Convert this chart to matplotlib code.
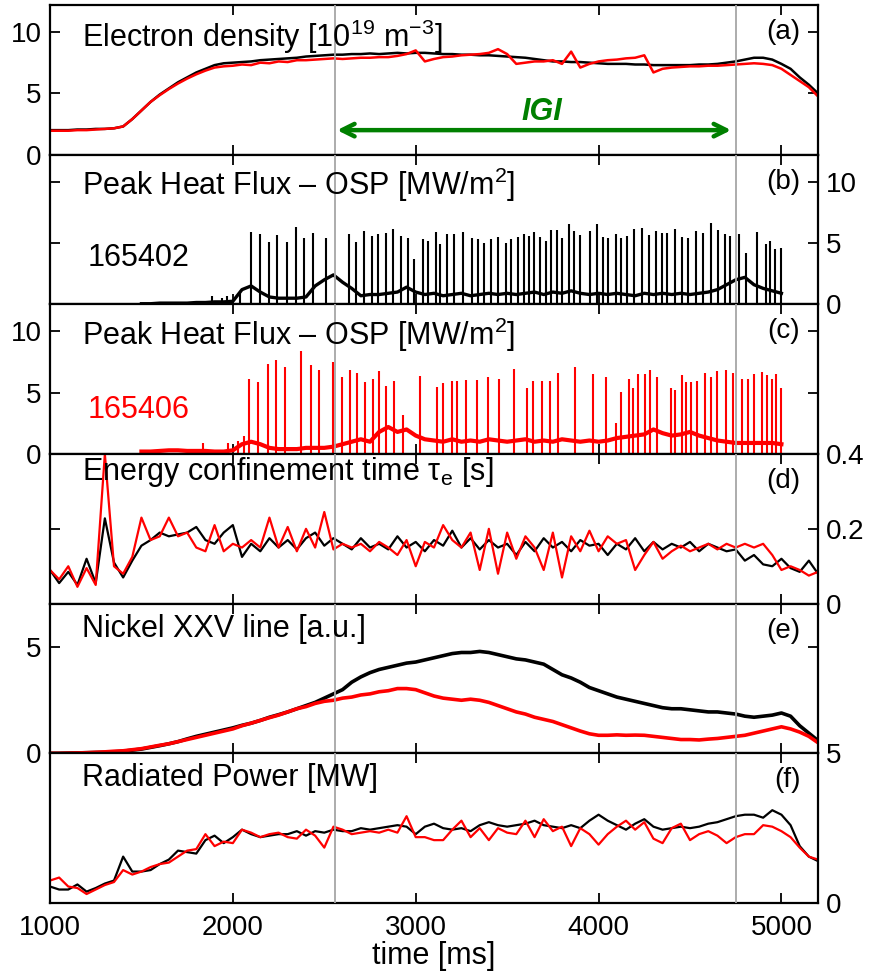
import numpy as np
import matplotlib
matplotlib.use('Agg')
import matplotlib.pyplot as plt

plt.rcParams['font.family'] = ['Liberation Sans', 'DejaVu Sans']
plt.rcParams['mathtext.fontset'] = 'custom'
plt.rcParams['mathtext.rm'] = 'Liberation Sans'
plt.rcParams['mathtext.it'] = 'Liberation Sans:italic'
plt.rcParams['mathtext.default'] = 'regular'

# ---- data ----
t = np.arange(1000, 5201, 50)          # 85 samples, ms
t_elm = np.arange(1500, 5001, 50)      # 71 samples, ms

ne_402 = [2.0, 2.0, 2.0, 2.05, 2.05, 2.1, 2.1, 2.15, 2.3,
          2.9, 3.6, 4.3, 4.9, 5.4, 5.9, 6.3, 6.7, 7.0, 7.3, 7.45,
          7.5, 7.55, 7.6, 7.7, 7.75, 7.8, 7.85, 7.9, 8.0, 8.05,
          8.1, 8.15, 8.15, 8.2, 8.2, 8.25, 8.2, 8.25, 8.3, 8.25,
          8.3, 8.3, 8.25, 8.2, 8.2, 8.15, 8.15, 8.1, 8.1, 8.05,
          8.0, 7.95, 7.9, 7.8, 7.7, 7.6, 7.6, 7.55, 7.55, 7.5,
          7.45, 7.4, 7.4, 7.4, 7.35, 7.35, 7.3, 7.3, 7.3, 7.3,
          7.3, 7.35, 7.35, 7.4, 7.5, 7.6, 7.75, 7.9, 7.9, 7.75,
          7.4, 7.0, 6.3, 5.7, 5.0]
ne_406 = [1.95, 1.95, 1.95, 2.0, 2.0, 2.05, 2.1, 2.15, 2.3,
          2.9, 3.6, 4.3, 4.85, 5.35, 5.8, 6.2, 6.55, 6.85, 7.1, 7.2,
          7.25, 7.35, 7.3, 7.5, 7.45, 7.6, 7.55, 7.7, 7.7, 7.75,
          7.8, 7.85, 7.8, 7.85, 7.9, 7.9, 7.95, 7.95, 8.05, 8.2,
          8.5, 7.6, 7.8, 7.95, 8.0, 8.1, 8.15, 8.2, 8.3, 8.6,
          8.2, 7.4, 7.5, 7.6, 7.6, 7.7, 7.4, 8.4, 7.1, 7.4,
          7.6, 7.7, 7.75, 7.85, 7.9, 8.1, 6.7, 7.0, 7.1, 7.15,
          7.2, 7.2, 7.25, 7.25, 7.3, 7.35, 7.4, 7.45, 7.4, 7.3,
          7.0, 6.5, 6.0, 5.5, 4.75]

q_base_402 = [0.05, 0.05, 0.1, 0.1, 0.1, 0.1, 0.15, 0.15, 0.2, 0.2,
              0.25, 1.2, 1.5, 1.0, 0.6, 0.5, 0.5, 0.5, 0.6, 1.5,
              2.0, 2.4, 1.8, 1.3, 0.7, 0.8, 0.8, 0.9, 1.0, 1.4,
              1.0, 0.8, 0.9, 0.7, 0.8, 0.9, 0.7, 0.8, 0.9, 0.8,
              0.9, 0.8, 0.9, 1.0, 0.8, 1.0, 0.9, 1.1, 0.9, 0.8,
              0.9, 0.8, 0.9, 0.8, 0.7, 0.9, 0.8, 0.9, 0.8, 0.9,
              0.8, 0.9, 1.0, 1.2, 1.6, 2.0, 2.2, 1.6, 1.3, 1.1,
              0.9]
q_base_406 = [0.2, 0.2, 0.25, 0.3, 0.3, 0.25, 0.25, 0.25, 0.2, 0.2,
              0.3, 0.8, 1.0, 0.8, 0.5, 0.4, 0.4, 0.4, 0.5, 0.5,
              0.5, 0.6, 0.8, 1.0, 1.2, 1.0, 1.8, 2.2, 1.8, 2.0,
              1.5, 1.2, 1.1, 1.0, 1.2, 1.0, 1.1, 1.0, 1.2, 1.1,
              1.0, 1.1, 1.2, 1.0, 1.1, 1.0, 1.2, 1.1, 1.0, 1.1,
              1.0, 1.1, 1.3, 1.4, 1.5, 1.6, 2.0, 1.7, 1.5, 1.6,
              1.8, 1.5, 1.3, 1.1, 1.0, 0.9, 0.9, 0.9, 0.9, 0.9,
              0.8]

elm_t_402 = [1885, 1940, 1967, 2040, 2099, 2150, 2199, 2244, 2296, 2343,
             2390, 2440, 2511, 2635, 2673, 2719, 2761, 2795, 2839, 2876,
             2918, 2960, 2989, 3038, 3067, 3111, 3131, 3171, 3210, 3257,
             3306, 3341, 3372, 3414, 3449, 3494, 3522, 3562, 3593, 3620,
             3649, 3677, 3710, 3739, 3770, 3801, 3841, 3863, 3901, 3952,
             3989, 4025, 4054, 4093, 4124, 4153, 4195, 4235, 4275, 4316,
             4345, 4372, 4417, 4454, 4489, 4532, 4573, 4617, 4653, 4691,
             4717, 4768, 4808, 4868, 4918, 4937, 4963, 4996]
elm_q_402 = [0.7, 0.5, 0.7, 1.0, 5.93, 5.71, 5.06, 5.66, 5.11, 6.28,
             5.38, 5.79, 5.38, 5.74, 5.06, 5.98, 5.6, 5.71, 5.79, 6.12,
             5.55, 5.44, 3.66, 5.33, 5.16, 5.87, 4.89, 5.71, 5.71, 5.87,
             5.38, 5.33, 4.97, 5.3, 5.52, 5.03, 5.33, 5.52, 5.74, 5.6,
             5.87, 5.47, 5.19, 6.07, 6.07, 5.38, 6.53, 5.98, 5.66, 5.98,
             6.53, 5.52, 5.38, 5.74, 5.44, 5.6, 6.12, 6.25, 5.66, 5.98,
             5.85, 5.85, 6.15, 5.52, 5.44, 5.98, 5.79, 6.66, 6.07, 5.71,
             5.57, 5.71, 4.15, 5.87, 4.89, 5.16, 4.48, 4.56]

elm_t_406 = [1838, 1973, 2030, 2060, 2091, 2140, 2191, 2235, 2286, 2372,
             2427, 2469, 2547, 2597, 2638, 2679, 2721, 2764, 2799, 2838,
             2879, 2931, 3025, 3117, 3148, 3199, 3226, 3277, 3336, 3394,
             3454, 3536, 3609, 3642, 3688, 3733, 3779, 3870, 3971, 4038,
             4097, 4120, 4166, 4190, 4217, 4253, 4281, 4317, 4394, 4416,
             4454, 4476, 4507, 4540, 4580, 4613, 4650, 4695, 4737, 4783,
             4817, 4850, 4896, 4923, 4947, 4969, 4996]
elm_q_406 = [0.9, 0.9, 1.1, 1.5, 6.15, 5.83, 7.36, 7.63, 7.12, 8.39,
             7.23, 6.85, 7.5, 6.31, 6.83, 6.64, 5.83, 6.15, 6.77, 5.56,
             5.97, 3.15, 6.37, 5.43, 5.75, 5.97, 5.97, 6.05, 6.05, 6.31,
             6.1, 6.91, 5.38, 5.97, 5.97, 5.97, 6.59, 7.12, 6.51, 6.24,
             2.55, 5.08, 6.15, 5.35, 6.51, 6.51, 6.85, 6.31, 5.35, 5.24,
             6.45, 5.83, 5.83, 5.97, 6.59, 6.31, 6.77, 6.83, 6.64, 6.15,
             6.15, 6.51, 6.69, 6.43, 6.1, 6.51, 5.35]

tau_402 = [0.09, 0.055, 0.085, 0.05, 0.12, 0.055, 0.228, 0.11, 0.07, 0.115,
           0.155, 0.17, 0.19, 0.18, 0.185, 0.19, 0.205, 0.17, 0.16, 0.19,
           0.21, 0.125, 0.16, 0.14, 0.175, 0.15, 0.17, 0.145, 0.175, 0.19,
           0.155, 0.175, 0.16, 0.145, 0.175, 0.15, 0.16, 0.145, 0.18, 0.15,
           0.165, 0.14, 0.17, 0.155, 0.195, 0.15, 0.175, 0.145, 0.17, 0.15,
           0.16, 0.13, 0.165, 0.14, 0.175, 0.15, 0.165, 0.14, 0.17, 0.155,
           0.16, 0.13, 0.16, 0.145, 0.175, 0.14, 0.165, 0.145, 0.16, 0.15,
           0.165, 0.14, 0.16, 0.15, 0.14, 0.145, 0.115, 0.13, 0.105, 0.1,
           0.12, 0.095, 0.085, 0.115, 0.08]
tau_406 = [0.09, 0.065, 0.10, 0.045, 0.095, 0.05, 0.40, 0.10, 0.08, 0.125,
           0.23, 0.17, 0.18, 0.23, 0.18, 0.19, 0.15, 0.14, 0.21, 0.14,
           0.16, 0.15, 0.17, 0.15, 0.23, 0.15, 0.205, 0.14, 0.20, 0.15,
           0.245, 0.145, 0.16, 0.15, 0.16, 0.14, 0.165, 0.15, 0.13, 0.17,
           0.10, 0.165, 0.15, 0.21, 0.17, 0.15, 0.19, 0.09, 0.20, 0.08,
           0.19, 0.12, 0.18, 0.15, 0.09, 0.19, 0.07, 0.18, 0.14, 0.195,
           0.14, 0.18, 0.16, 0.17, 0.09, 0.13, 0.165, 0.12, 0.14, 0.155,
           0.14, 0.15, 0.16, 0.145, 0.16, 0.15, 0.16, 0.15, 0.16, 0.13,
           0.09, 0.10, 0.09, 0.075, 0.085]

ni_402 = [0, 0, 0.01, 0.02, 0.03, 0.04, 0.05, 0.07, 0.1, 0.15,
          0.2, 0.28, 0.36, 0.45, 0.55, 0.68, 0.8, 0.9, 1.0, 1.1,
          1.2, 1.32, 1.42, 1.55, 1.7, 1.82, 1.95, 2.1, 2.25, 2.4,
          2.6, 2.8, 3.0, 3.35, 3.6, 3.8, 3.95, 4.05, 4.15, 4.25,
          4.3, 4.4, 4.5, 4.6, 4.7, 4.75, 4.75, 4.8, 4.75, 4.65,
          4.55, 4.45, 4.4, 4.3, 4.2, 3.95, 3.7, 3.55, 3.35, 3.1,
          2.95, 2.8, 2.65, 2.55, 2.45, 2.35, 2.25, 2.15, 2.1, 2.1,
          2.05, 2.0, 1.95, 1.95, 1.9, 1.85, 1.75, 1.7, 1.75, 1.8,
          1.9, 1.75, 1.3, 0.95, 0.6]
ni_406 = [0, 0, 0.01, 0.02, 0.03, 0.05, 0.07, 0.1, 0.12, 0.17,
          0.22, 0.3, 0.38, 0.45, 0.55, 0.65, 0.75, 0.85, 0.95, 1.05,
          1.15, 1.3, 1.42, 1.55, 1.68, 1.8, 1.95, 2.1, 2.2, 2.35,
          2.45, 2.5, 2.6, 2.65, 2.75, 2.8, 2.9, 2.95, 3.05, 3.05,
          3.0, 2.85, 2.7, 2.6, 2.55, 2.5, 2.55, 2.5, 2.4, 2.25,
          2.1, 1.95, 1.85, 1.7, 1.6, 1.5, 1.35, 1.2, 1.05, 0.92,
          0.85, 0.85, 0.87, 0.85, 0.86, 0.85, 0.8, 0.75, 0.7, 0.65,
          0.65, 0.63, 0.67, 0.7, 0.75, 0.8, 0.85, 0.95, 1.05, 1.15,
          1.25, 1.15, 1.0, 0.8, 0.5]

prad_402 = [0.55, 0.45, 0.45, 0.62, 0.38, 0.5, 0.65, 0.75, 1.55, 1.05,
            1.05, 1.1, 1.3, 1.45, 1.75, 1.7, 1.65, 2.1, 2.25, 2.0,
            2.2, 2.45, 2.3, 2.2, 2.25, 2.3, 2.3, 2.4, 2.25, 2.4,
            2.35, 2.45, 2.4, 2.4, 2.5, 2.45, 2.5, 2.55, 2.6, 2.55,
            2.3, 2.55, 2.65, 2.5, 2.45, 2.5, 2.4, 2.6, 2.7, 2.6,
            2.55, 2.6, 2.65, 2.75, 2.6, 2.55, 2.5, 2.6, 2.5, 2.75,
            2.95, 2.75, 2.6, 2.45, 2.65, 2.8, 2.55, 2.45, 2.5, 2.55,
            2.5, 2.55, 2.65, 2.7, 2.8, 2.9, 2.95, 2.95, 2.85, 3.1,
            2.95, 2.6, 1.9, 1.55, 1.4]
prad_406 = [0.75, 0.85, 0.55, 0.5, 0.3, 0.45, 0.6, 0.7, 1.1, 0.95,
            1.05, 1.2, 1.3, 1.35, 1.55, 1.75, 1.8, 2.3, 1.9, 2.05,
            2.0, 2.45, 2.35, 2.2, 2.3, 2.35, 2.2, 2.15, 2.45, 2.25,
            1.85, 2.55, 2.45, 2.3, 2.35, 2.4, 2.35, 2.45, 2.35, 2.9,
            2.2, 2.2, 2.1, 2.1, 2.45, 2.75, 2.2, 2.5, 2.1, 2.5,
            2.35, 2.3, 2.75, 2.2, 2.8, 2.4, 2.55, 1.9, 2.5, 2.3,
            1.95, 2.3, 2.55, 2.75, 2.45, 2.7, 2.15, 2.0, 2.5, 2.65,
            2.1, 2.3, 2.4, 2.25, 2.0, 2.2, 2.3, 2.3, 2.6, 2.55,
            2.4, 2.2, 1.85, 1.55, 1.45]

igi_window = [2560, 4750]   # vertical markers, ms
panel_tags = ['(a)', '(b)', '(c)', '(d)', '(e)', '(f)']

# ---- figure layout ----
W, H = 869, 977
fig = plt.figure(figsize=(W / 100, H / 100), dpi=100)
left_px, right_px = 50, 818
top_px, panel_h = 5, 898 / 6

axes = []
for i in range(6):
    y0 = top_px + i * panel_h
    ax = fig.add_axes([left_px / W, 1 - (y0 + panel_h) / H,
                       (right_px - left_px) / W, panel_h / H])
    axes.append(ax)

GREY = '#a6a6a6'
LW = 1.6


def style(ax, ylim, yticks, side, ticklabels=None):
    ax.set_xlim(1000, 5200)
    ax.set_ylim(*ylim)
    ax.set_xticks([1000, 2000, 3000, 4000, 5000])
    ax.set_yticks(yticks)
    if ticklabels is not None:
        ax.set_yticklabels(ticklabels)
    ax.tick_params(direction='in', length=7, width=1.3, top=True, right=True,
                   labelsize=20, pad=6,
                   labelleft=(side == 'left'), labelright=(side == 'right'),
                   labelbottom=False)
    for sp in ax.spines.values():
        sp.set_linewidth(1.6)
    for xv in igi_window:
        ax.axvline(xv, color=GREY, lw=1.3, zorder=4)


# (a) electron density
ax = axes[0]
ax.plot(t, ne_402, color='black', lw=1.8)
ax.plot(t, ne_406, color='red', lw=1.8)
style(ax, (0, 12.2), [0, 5, 10], 'left')
ax.annotate('', xy=(2570, 2.0), xytext=(4725, 2.0),
            arrowprops=dict(arrowstyle='<->,head_length=0.9,head_width=0.45',
                            color='#008000', lw=3.2, shrinkA=0, shrinkB=0))
ax.text(3690, 3.5, 'IGI', color='#008000', fontsize=22, fontweight='bold',
        fontstyle='italic', ha='center', va='center')

# (b) peak heat flux 165402
ax = axes[1]
ax.plot(t_elm, q_base_402, color='black', lw=2.4)
ax.vlines(elm_t_402, 0, elm_q_402, color='black', lw=1.5)
style(ax, (0, 12.2), [0, 5, 10], 'right')
ax.text(1487, 3.8, '165402', color='black', fontsize=22, ha='center', va='center')

# (c) peak heat flux 165406
ax = axes[2]
ax.plot(t_elm, q_base_406, color='red', lw=3.0)
ax.vlines(elm_t_406, 0, elm_q_406, color='red', lw=1.5)
style(ax, (0, 12.2), [0, 5, 10], 'left')
ax.text(1487, 3.55, '165406', color='red', fontsize=22, ha='center', va='center')

# (d) energy confinement time
ax = axes[3]
ax.plot(t, tau_402, color='black', lw=LW)
ax.plot(t, tau_406, color='red', lw=LW)
style(ax, (0, 0.4), [0, 0.2, 0.4], 'right', ['0', '0.2', '0.4'])

# (e) Nickel XXV
ax = axes[4]
ax.plot(t, ni_402, color='black', lw=2.6)
ax.plot(t, ni_406, color='red', lw=2.6)
style(ax, (0, 7.05), [0, 5], 'left')

# (f) radiated power
ax = axes[5]
ax.plot(t, prad_402, color='black', lw=LW)
ax.plot(t, prad_406, color='red', lw=LW)
style(ax, (0, 5), [0, 5], 'right')
ax.tick_params(axis='x', labelbottom=True, labelsize=20, pad=9)
ax.set_xlabel('time [ms]', fontsize=22, labelpad=0)

titles = [r'Electron density [10$^{19}$ m$^{-3}$]',
          r'Peak Heat Flux – OSP [MW/m$^{2}$]',
          r'Peak Heat Flux – OSP [MW/m$^{2}$]',
          r'Energy confinement time $\tau_{e}$ [s]',
          'Nickel XXV line [a.u.]',
          'Radiated Power [MW]']
title_y = [0.72, 0.73, 0.725, 0.825, 0.78, 0.785]
for ax, ttl, ty, tag in zip(axes, titles, title_y, panel_tags):
    ax.text(0.042, ty, ttl, transform=ax.transAxes, fontsize=22,
            ha='left', va='baseline', zorder=5)
    ax.text(0.977, 0.82, tag, transform=ax.transAxes, fontsize=20,
            ha='right', va='center', zorder=5)

fig.savefig('out.png', dpi=100)
